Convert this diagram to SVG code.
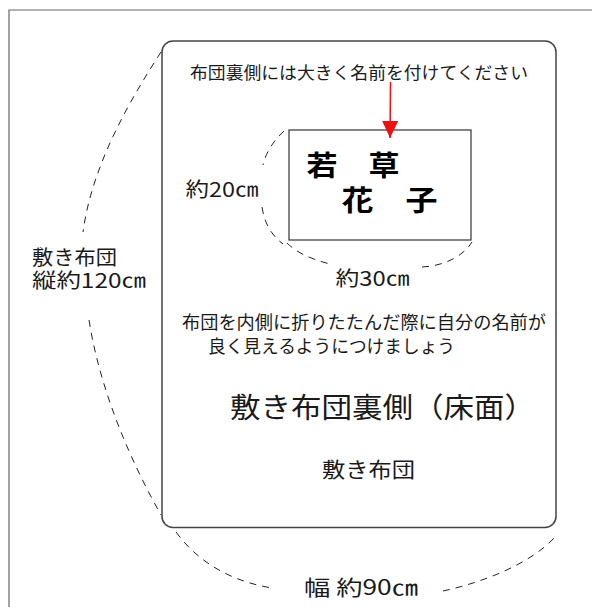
<svg xmlns="http://www.w3.org/2000/svg" width="592" height="607" viewBox="0 0 592 607">
<style>
text{font-family:"Noto Sans CJK JP","Noto Sans CJK SC",sans-serif;fill:#1a1a1a}
.dash{fill:none;stroke:#222;stroke-width:1;stroke-dasharray:7 6}
.frame{fill:none;stroke:#666;stroke-width:1.2}
.box{fill:#fff;stroke:#444;stroke-width:1.5}
.nm{font-weight:bold;font-size:28px;fill:#000}
</style>
<defs>
<marker id="ah" viewBox="0 0 17 16" refX="17" refY="8" markerWidth="17" markerHeight="16" markerUnits="userSpaceOnUse" orient="auto">
<path d="M0,0 L17,8 L0,16 Z" fill="#ee1111"/>
</marker>
</defs>
<rect width="592" height="607" fill="#fff"/>
<g id="frame">
<path class="frame" d="M9,607 L9,10 L592,10"/>
</g>
<g id="futon">
<rect class="box" x="162" y="41" width="394" height="486.5" rx="11" ry="11"/>
<text x="190" y="79" font-size="17" textLength="338" lengthAdjust="spacingAndGlyphs">布団裏側には大きく名前を付けてください</text>
<text x="182" y="329" font-size="18" textLength="364" lengthAdjust="spacingAndGlyphs">布団を内側に折りたたんだ際に自分の名前が</text>
<text x="208" y="353" font-size="18" textLength="247" lengthAdjust="spacingAndGlyphs">良く見えるようにつけましょう</text>
<text x="230" y="418" font-size="28" textLength="305" lengthAdjust="spacingAndGlyphs">敷き布団裏側（床面）</text>
<text x="322" y="477" font-size="21" textLength="93" lengthAdjust="spacingAndGlyphs">敷き布団</text>
</g>
<g id="namebox">
<rect x="289" y="130" width="182" height="110" fill="#fff" stroke="#333" stroke-width="1.2"/>
<text class="nm" x="306.5" y="176" textLength="93" lengthAdjust="spacingAndGlyphs">若　草</text>
<text class="nm" x="341.5" y="211" textLength="96" lengthAdjust="spacingAndGlyphs">花　子</text>
</g>
<g id="labels">
<text x="185.5" y="197" font-size="20" textLength="73" lengthAdjust="spacingAndGlyphs">約20㎝</text>
<text x="335.5" y="286" font-size="20" textLength="74" lengthAdjust="spacingAndGlyphs">約30㎝</text>
<text x="32" y="265" font-size="20" textLength="85" lengthAdjust="spacingAndGlyphs">敷き布団</text>
<text x="32" y="288" font-size="20" textLength="114" lengthAdjust="spacingAndGlyphs">縦約120㎝</text>
<text x="304" y="595" font-size="21" textLength="114" lengthAdjust="spacingAndGlyphs">幅 約90㎝</text>
</g>
<g id="connectors">
<path class="dash" d="M161,52 C130,100 92,165 83,232"/>
<path class="dash" d="M89,320 C100,390 130,460 161,515"/>
<path class="dash" d="M176,532 C200,565 235,582 272,588"/>
<path class="dash" d="M443,591 C480,583 530,565 556,536"/>
<path class="dash" d="M284,131 C274,140 266,152 263,165"/>
<path class="dash" d="M262,207 C264,222 271,235 283,244"/>
<path class="dash" d="M287,243 C296,252 310,259 330,264"/>
<path class="dash" d="M422,267 C442,266 462,258 472,242"/>
<line x1="390.5" y1="82" x2="390" y2="138" stroke="#ee1111" stroke-width="1.5" marker-end="url(#ah)"/>
</g>
</svg>
